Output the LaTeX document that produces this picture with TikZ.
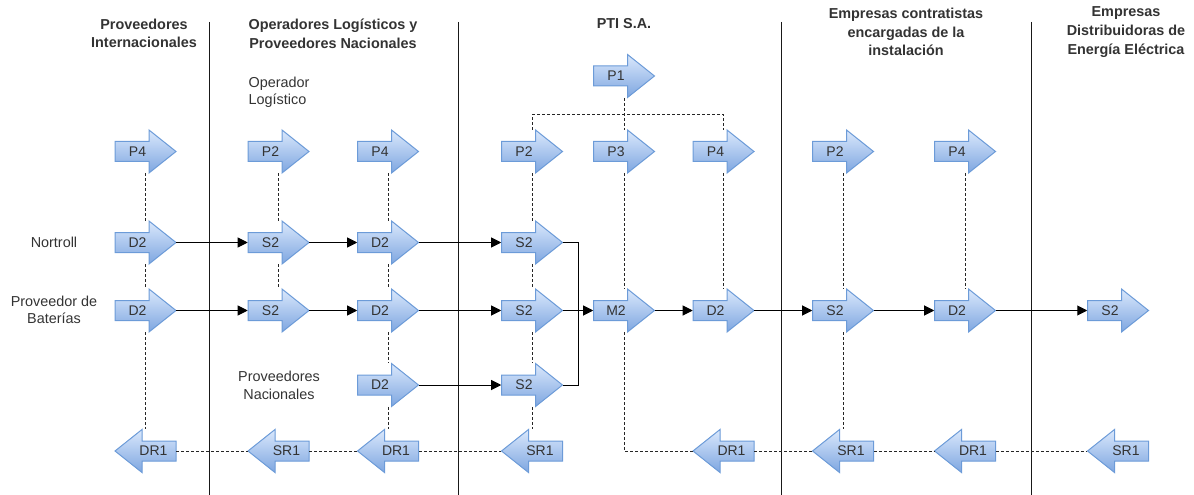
\documentclass[tikz,border=0pt]{standalone}
\usepackage{fontspec}
\setmainfont{Liberation Sans}
\usepackage{tikz}
\usetikzlibrary{arrows.meta,positioning,calc}

\definecolor{arrtop}{HTML}{DAE8FC}
\definecolor{arrbot}{HTML}{7EA6E0}
\definecolor{arredge}{HTML}{6C9BD8}
\definecolor{txt}{HTML}{333333}

% block arrow to the right / to the left: name, x, y, label
\newcommand{\fwdarrow}[4]{%
  \shadedraw[arrfill, shift={(#2,#3)}] (-30.5,-10) -- (3.5,-10) -- (3.5,-21.5) -- (30.5,0) -- (3.5,21.5) -- (3.5,10) -- (-30.5,10) -- cycle;
  \node[blk, execute at end node={\hspace{12pt}}] (#1) at (#2,#3) {#4};}
\newcommand{\bwdarrow}[4]{%
  \shadedraw[arrfill, shift={(#2,#3)}] (30.5,-10) -- (-3.5,-10) -- (-3.5,-21.5) -- (-30.5,0) -- (-3.5,21.5) -- (-3.5,10) -- (30.5,10) -- cycle;
  \node[blk, execute at begin node={\hspace{12pt}}] (#1) at (#2,#3) {#4};}

\begin{document}
\begin{tikzpicture}[x=0.75pt, y=-0.75pt,
    every node/.style={font=\fontsize{10.5}{13}\selectfont, text=txt},
    arrfill/.style={top color=arrtop, bottom color=arrbot, draw=arredge, line width=0.75pt},
    blk/.style={rectangle, inner sep=0pt, minimum width=45.75pt, minimum height=32.25pt},
    head/.style={align=center, font=\bfseries\fontsize{10.8}{14}\selectfont},
    side/.style={align=center, font=\fontsize{10.8}{13}\selectfont},
    flow/.style={line width=0.75pt, -{Triangle[length=7.5pt, width=7.5pt]}},
    link/.style={line width=0.75pt},
    dsh/.style={line width=0.75pt, black!85, dash pattern=on 2.25pt off 1.5pt},
    sep/.style={line width=0.75pt, black!90}]
    \useasboundingbox (0,0) rectangle (1194,495);

    \foreach \x in {209, 458, 781, 1031}
        \draw[sep] (\x,22) -- (\x,495);

    \node[head] (hA) at (144,33.5) {Proveedores\\Internacionales};
    \node[head] (hB) at (333,33.5) {Operadores Logísticos y\\Proveedores Nacionales};
    \node[head] (hD) at (624,24) {PTI S.A.};
    \node[head] (hG) at (906,32) {Empresas contratistas\\encargadas de la\\instalación};
    \node[head] (hI) at (1126,32) {Empresas\\Distribuidoras de\\Energía Eléctrica};

    \node[side, align=left, anchor=west] (opl) at (244,92.5) {Operador\\Logístico};
    \node[side] (nrt) at (54,242) {Nortroll};
    \node[side] (pbat) at (54,310) {Proveedor de\\Baterías};
    \node[side] (pnac) at (279,385.5) {Proveedores\\Nacionales};

    % processes
    \fwdarrow{p1}{624}{76}{P1}
    \foreach \n/\x/\t in {pA/145.5/P4, pB/278.5/P2, pC/388/P4, pD/532/P2, pE/624/P3, pF/723.5/P4, pG/843/P2, pH/965/P4}
        {\fwdarrow{\n}{\x}{151.5}{\t}}

    \foreach \n/\x/\t in {dA1/145.5/D2, sB1/278.5/S2, dC1/388/D2, sD1/532/S2}
        {\fwdarrow{\n}{\x}{242.5}{\t}}
    \foreach \n/\x/\t in {dA2/145.5/D2, sB2/278.5/S2, dC2/388/D2, sD2/532/S2, mE/624/M2, dF/723.5/D2, sG/843/S2, dH/965/D2, sI/1118/S2}
        {\fwdarrow{\n}{\x}{310.5}{\t}}
    \foreach \n/\x/\t in {dC3/388/D2, sD3/532/S2}
        {\fwdarrow{\n}{\x}{385}{\t}}

    \foreach \n/\x/\t in {drA/145.5/DR1, srB/278.5/SR1, drC/388/DR1, srD/532/SR1, drF/723.5/DR1, srG/843/SR1, drH/965/DR1, srI/1118/SR1}
        {\bwdarrow{\n}{\x}{451}{\t}}

    % flows
    \foreach \a/\b in {dA1/sB1, sB1/dC1, dC1/sD1, dA2/sB2, sB2/dC2, dC2/sD2, dC3/sD3, sD2/mE, mE/dF, dF/sG, sG/dH, dH/sI}
        \draw[flow] (\a.east) -- (\b.west);
    \coordinate (mrg) at (578,310.5);
    \draw[link] (sD1.east) -| (mrg) |- (sD3.east);

    % dashed links
    \foreach \a/\b in {pA/dA1, dA1/dA2, dA2/drA, pB/sB1, sB1/sB2, pC/dC1, dC1/dC2, dC2/dC3, dC3/drC, pD/sD1, sD1/sD2, sD2/sD3, sD3/srD, p1/pE, pE/mE, pF/dF, pG/sG, sG/srG, pH/dH}
        \draw[dsh] (\a.south) -- (\b.north);
    \draw[dsh] (pD.north) -- ++(0,-15) -| (pF.north);
    \foreach \a/\b in {drA/srB, srB/drC, drC/srD, drF/srG, srG/drH, drH/srI}
        \draw[dsh] (\a.east) -- (\b.west);
    \draw[dsh] (mE.south) |- (drF.west);
\end{tikzpicture}
\end{document}
